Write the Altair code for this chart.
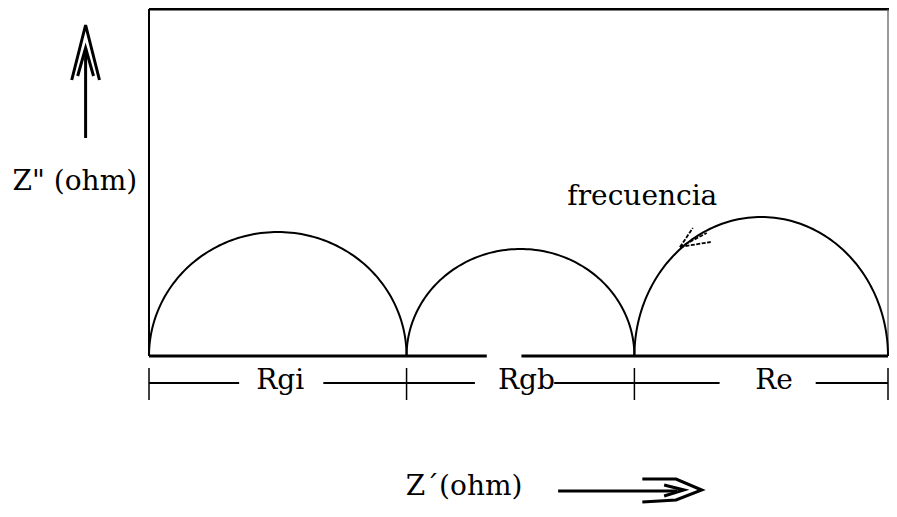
import numpy as np
import pandas as pd
import altair as alt

# ---- data (schematic impedance spectrum) ----
arc_labels = ["Rgi", "Rgb", "Re"]
arc_widths = [26.0, 23.0, 25.6]       # Z' extent of each semicircle
arc_heights = [12.4, 10.7, 13.9]      # Z'' maximum of each semicircle
label_x = [13.25, 38.1, 63.1]         # where the labels sit on the dimension line

XMAX, YMAX = 74.6, 34.7
FONT = "DejaVu Serif"

# ---- semicircles ----
rows = []
start = 0.0
for lab, w, h in zip(arc_labels, arc_widths, arc_heights):
    th = np.linspace(0, np.pi, 121)
    for i, t in enumerate(th):
        rows.append({"arc": lab, "o": i,
                     "x": start + w / 2 * (1 - np.cos(t)),
                     "y": h * np.sin(t)})
    start += w
arcs = pd.DataFrame(rows)
bounds = [0.0] + list(np.cumsum(arc_widths))

# ---- line segments (frame, dimension line, arrows) ----
def seg_df(segs):
    r = []
    for k, pts in enumerate(segs):
        for i, (x, y) in enumerate(pts):
            r.append({"s": k, "o": i, "x": x, "y": y})
    return pd.DataFrame(r)

xs = alt.X("x:Q", scale=alt.Scale(domain=[0, XMAX], nice=False, zero=False), axis=None)
ys = alt.Y("y:Q", scale=alt.Scale(domain=[0, YMAX], nice=False, zero=False), axis=None)

def lines(segs, width, color="black", dash=None):
    kw = dict(strokeWidth=width, color=color, clip=False)
    if dash:
        kw["strokeDash"] = dash
    return alt.Chart(seg_df(segs)).mark_line(**kw).encode(
        x=xs, y=ys, detail="s:N", order="o:Q")

frame_top = lines([[(0, YMAX), (XMAX + 0.2, YMAX)]], 3)
frame_left = lines([[(0, 0), (0, YMAX)]], 2)
frame_right = lines([[(XMAX, 0), (XMAX, YMAX)]], 1.2, "#555555")
baseline = lines([[(0, 0), (34.1, 0)], [(37.6, 0), (XMAX, 0)]], 3)

dim_y = -2.7
dim_line = lines([[(0, dim_y), (9.1, dim_y)], [(17.6, dim_y), (32.9, dim_y)],
                  [(40.9, dim_y), (57.6, dim_y)], [(67.3, dim_y), (XMAX, dim_y)]], 2)
dim_ticks = lines([[(b, -1.2), (b, -4.4)] for b in bounds], 1.5)

up_arrow = lines([
    [(-6.4, 21.8), (-6.4, 30.8)],
    [(-7.8, 27.6), (-6.4, 33.1), (-5.0, 27.6)],
    [(-7.2, 28.0), (-6.4, 30.8), (-5.6, 28.0)],
], 3)

right_arrow = lines([
    [(41.3, -13.5), (53.3, -13.5)],
    [(49.8, -12.3), (53.2, -12.3), (55.8, -13.4), (53.2, -14.4), (49.8, -14.6)],
    [(52.0, -12.9), (54.0, -13.4), (52.0, -14.0)],
], 3)

freq_arrow = lines([
    [(53.6, 10.9), (54.9, 12.8)],
    [(53.6, 10.9), (56.3, 12.3)],
    [(53.6, 10.9), (56.7, 11.4)],
], 1.8, dash=[4, 1.5])

arc_layer = alt.Chart(arcs).mark_line(color="black", strokeWidth=2, clip=False).encode(
    x=xs, y=ys, detail="arc:N", order="o:Q")

# ---- texts ----
def text(df, align="center"):
    return alt.Chart(df).mark_text(font=FONT, fontSize=28, color="black",
                                   align=align, baseline="middle", clip=False).encode(
        x=xs, y=ys, text="t:N")

lab_df = pd.DataFrame({"x": label_x, "y": [-2.5] * 3, "t": arc_labels})
ann_df = pd.DataFrame({"x": [49.8, 31.8], "y": [15.9, -13.1], "t": ["frecuencia", "Z´(ohm)"]})
ytitle_df = pd.DataFrame({"x": [-1.2], "y": [17.4], "t": ['Z" (ohm)']})

chart = alt.layer(
    frame_top, frame_left, frame_right, baseline,
    arc_layer, dim_line, dim_ticks, up_arrow, right_arrow, freq_arrow,
    text(lab_df), text(ann_df), text(ytitle_df, align="right"),
).properties(
    width=739, height=347,
    autosize=alt.AutoSizeParams(type="none"),
    padding={"left": 141, "top": 1, "right": 1, "bottom": 148},
    background="white",
).configure_view(stroke=None)

chart.save("out.html", embed_options={"renderer": "svg", "actions": False})
